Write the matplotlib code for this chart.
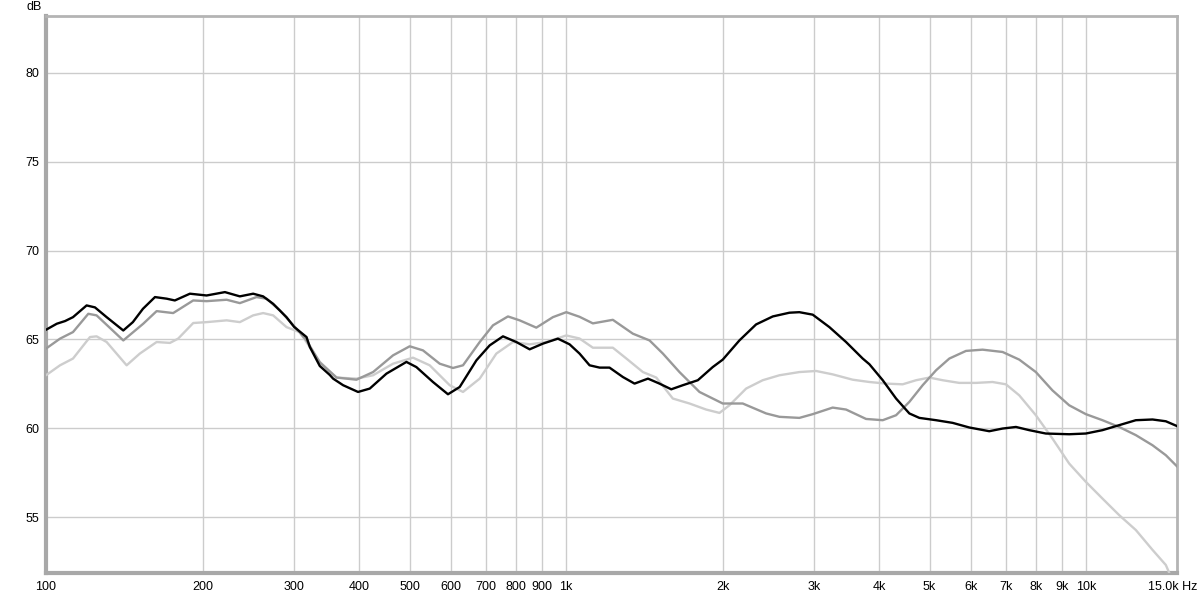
import matplotlib
matplotlib.use("Agg")
import matplotlib.pyplot as plt
import matplotlib.transforms as mtransforms
from matplotlib.ticker import FixedLocator, FixedFormatter, NullLocator

plt.rcParams['font.family'] = ['Liberation Sans', 'DejaVu Sans']

# ---- data ----
black_f = [100, 104.9, 108.8, 112.7, 119.7, 124.2, 130.8, 140.8, 146.9, 153.6, 162.0, 170.6,
           176.9, 189.1, 203.6, 220.8, 235.9, 250.2, 261.5, 273.4, 290.0, 300.0, 316.9, 321.6,
           336.1, 351.2, 356.5, 372.6, 398.1, 419.3, 451.4, 493.2, 515.4, 554.7, 592.8, 624.4,
           672.3, 712.9, 756.2, 802.3, 851.0, 902.5, 964.4, 1015.6, 1061.4, 1109.6, 1160, 1212,
           1286, 1354, 1437, 1512, 1593, 1677, 1792, 1914, 2001, 2154, 2319, 2497, 2688, 2809,
           2980, 3208, 3454, 3718, 3830, 4063, 4310, 4571, 4778, 5145, 5537, 5960, 6511, 6906,
           7328, 7771, 8364, 9275, 9986, 10748, 11571, 12459, 13415, 14229, 14976]
black_db = [65.54, 65.88, 66.03, 66.25, 66.91, 66.8, 66.25, 65.5, 65.97, 66.72, 67.38, 67.29,
            67.19, 67.57, 67.47, 67.66, 67.42, 67.57, 67.42, 67.0, 66.25, 65.7, 65.13, 64.57,
            63.5, 63.0, 62.79, 62.42, 62.04, 62.23, 63.07, 63.73, 63.44, 62.6, 61.91, 62.32,
            63.82, 64.66, 65.17, 64.85, 64.44, 64.76, 65.04, 64.72, 64.2, 63.54, 63.41, 63.41,
            62.88, 62.51, 62.79, 62.51, 62.19, 62.42, 62.7, 63.44, 63.86, 64.94, 65.84, 66.29,
            66.5, 66.53, 66.39, 65.69, 64.85, 63.92, 63.6, 62.7, 61.67, 60.83, 60.58, 60.45,
            60.3, 60.04, 59.83, 59.98, 60.07, 59.89, 59.7, 59.66, 59.7, 59.89, 60.17, 60.45,
            60.49, 60.39, 60.11]

dark_f = [100, 106.4, 112.7, 120.6, 125.1, 140.8, 153.8, 163.2, 175.6, 191.9, 203.6, 222.5,
          235.9, 254.0, 265.5, 281.6, 303.1, 316.9, 336.1, 361.9, 395.3, 425.5, 464.8, 500.4,
          530.7, 571.5, 606.1, 633.6, 682.2, 723.5, 773.1, 814.2, 876.5, 943.3, 1000.9, 1061.4,
          1125.9, 1230, 1344, 1447, 1535, 1652, 1805, 2001, 2186, 2425, 2572, 2809, 2980, 3255,
          3454, 3774, 4063, 4310, 4571, 4849, 5145, 5456, 5874, 6322, 6906, 7436, 8003, 8612,
          9275, 9986, 10748, 11571, 12459, 13415, 14229, 14976]
dark_db = [64.48, 65.04, 65.41, 66.44, 66.35, 64.94, 65.88, 66.59, 66.48, 67.19, 67.15, 67.23,
           67.04, 67.38, 67.29, 66.63, 65.6, 64.94, 63.7, 62.85, 62.73, 63.16, 64.1, 64.61,
           64.38, 63.63, 63.39, 63.54, 64.85, 65.79, 66.29, 66.07, 65.66, 66.25, 66.53, 66.27,
           65.9, 66.1, 65.32, 64.94, 64.2, 63.16, 62.04, 61.39, 61.39, 60.83, 60.64, 60.58,
           60.79, 61.16, 61.05, 60.52, 60.45, 60.73, 61.48, 62.42, 63.26, 63.92, 64.35, 64.42,
           64.29, 63.86, 63.16, 62.13, 61.29, 60.79, 60.45, 60.07, 59.61, 59.04, 58.48, 57.83]

light_f = [100, 106.4, 112.7, 121.5, 125.1, 130.8, 142.9, 151.5, 163.2, 173.1, 179.5, 191.9,
           203.6, 222.5, 235.9, 250.2, 261.5, 273.4, 290.0, 307.6, 336.1, 361.9, 395.3, 425.5,
           464.8, 507.7, 546.7, 597.3, 633.6, 682.2, 734.4, 790.4, 851.0, 916.2, 1000.9, 1061,
           1126, 1230, 1306, 1405, 1491, 1604, 1727, 1859, 1972, 2061, 2219, 2388, 2572, 2809,
           3025, 3255, 3556, 3830, 4124, 4438, 4709, 4995, 5297, 5702, 6140, 6607, 7010, 7436,
           8003, 8612, 9275, 9986, 10748, 11571, 12459, 13415, 14229, 14548]
light_db = [62.98, 63.54, 63.92, 65.13, 65.17, 64.85, 63.54, 64.2, 64.85, 64.8, 65.04, 65.92,
            65.97, 66.07, 65.97, 66.35, 66.48, 66.35, 65.69, 65.4, 63.73, 62.85, 62.79, 62.98,
            63.63, 63.97, 63.54, 62.42, 62.04, 62.79, 64.2, 64.85, 64.72, 64.85, 65.22, 65.05,
            64.53, 64.53, 63.92, 63.16, 62.85, 61.67, 61.39, 61.05, 60.86, 61.29, 62.23, 62.7,
            62.98, 63.16, 63.22, 63.03, 62.73, 62.6, 62.51, 62.47, 62.7, 62.85, 62.7, 62.55,
            62.55, 62.6, 62.47, 61.85, 60.73, 59.42, 58.01, 56.98, 56.04, 55.11, 54.27, 53.15,
            52.3, 51.65]

x_ticks = [100, 200, 300, 400, 500, 600, 700, 800, 900, 1000, 2000, 3000, 4000, 5000,
           6000, 7000, 8000, 9000, 10000, 14950]
x_labels = ['100', '200', '300', '400', '500', '600', '700', '800', '900', '1k', '2k', '3k',
            '4k', '5k', '6k', '7k', '8k', '9k', '10k', '15.0k Hz']
y_ticks = [55, 60, 65, 70, 75, 80]
y_labels = ['55', '60', '65', '70', '75', '80']

# ---- figure ----
fig = plt.figure(figsize=(12, 5.98), dpi=100)
ax = fig.add_axes([46 / 1200, 1 - 573 / 598, (1177 - 46) / 1200, (573 - 16) / 598])

ax.set_xscale('log')
ax.set_xlim(100, 14950)
ax.set_ylim(51.85, 83.2)

ax.plot(light_f, light_db, color='#cdcdcd', lw=1.7, solid_capstyle='round',
        solid_joinstyle='round', zorder=3)
ax.plot(dark_f, dark_db, color='#999999', lw=1.7, solid_capstyle='round',
        solid_joinstyle='round', zorder=4)
ax.plot(black_f, black_db, color='#000000', lw=1.7, solid_capstyle='round',
        solid_joinstyle='round', zorder=5)

ax.xaxis.set_major_locator(FixedLocator(x_ticks))
ax.xaxis.set_major_formatter(FixedFormatter(x_labels))
ax.xaxis.set_minor_locator(NullLocator())
ax.yaxis.set_major_locator(FixedLocator(y_ticks))
ax.yaxis.set_major_formatter(FixedFormatter(y_labels))

ax.grid(True, which='major', color='#cccccc', lw=1.0, zorder=1)
ax.set_axisbelow(True)
ax.tick_params(axis='both', length=0, labelsize=9, colors='black')
ax.tick_params(axis='x', pad=6)
ax.tick_params(axis='y', pad=5)

for s in ax.spines.values():
    s.set_color('#b4b4b4')
    s.set_linewidth(2.0)
ax.spines['left'].set_linewidth(3.0)
ax.spines['left'].set_color('#a8a8a8')
ax.spines['bottom'].set_linewidth(3.0)
ax.spines['bottom'].set_color('#a8a8a8')

fig.canvas.draw()
last = ax.get_xticklabels()[-1]
last.set_transform(last.get_transform() +
                   mtransforms.ScaledTranslation(-4 / 100, 0, fig.dpi_scale_trans))

fig.text(34 / 1200, 1 - 7 / 598, 'dB', fontsize=9, ha='center', va='center')

fig.savefig('out.png', dpi=100, facecolor='white')
